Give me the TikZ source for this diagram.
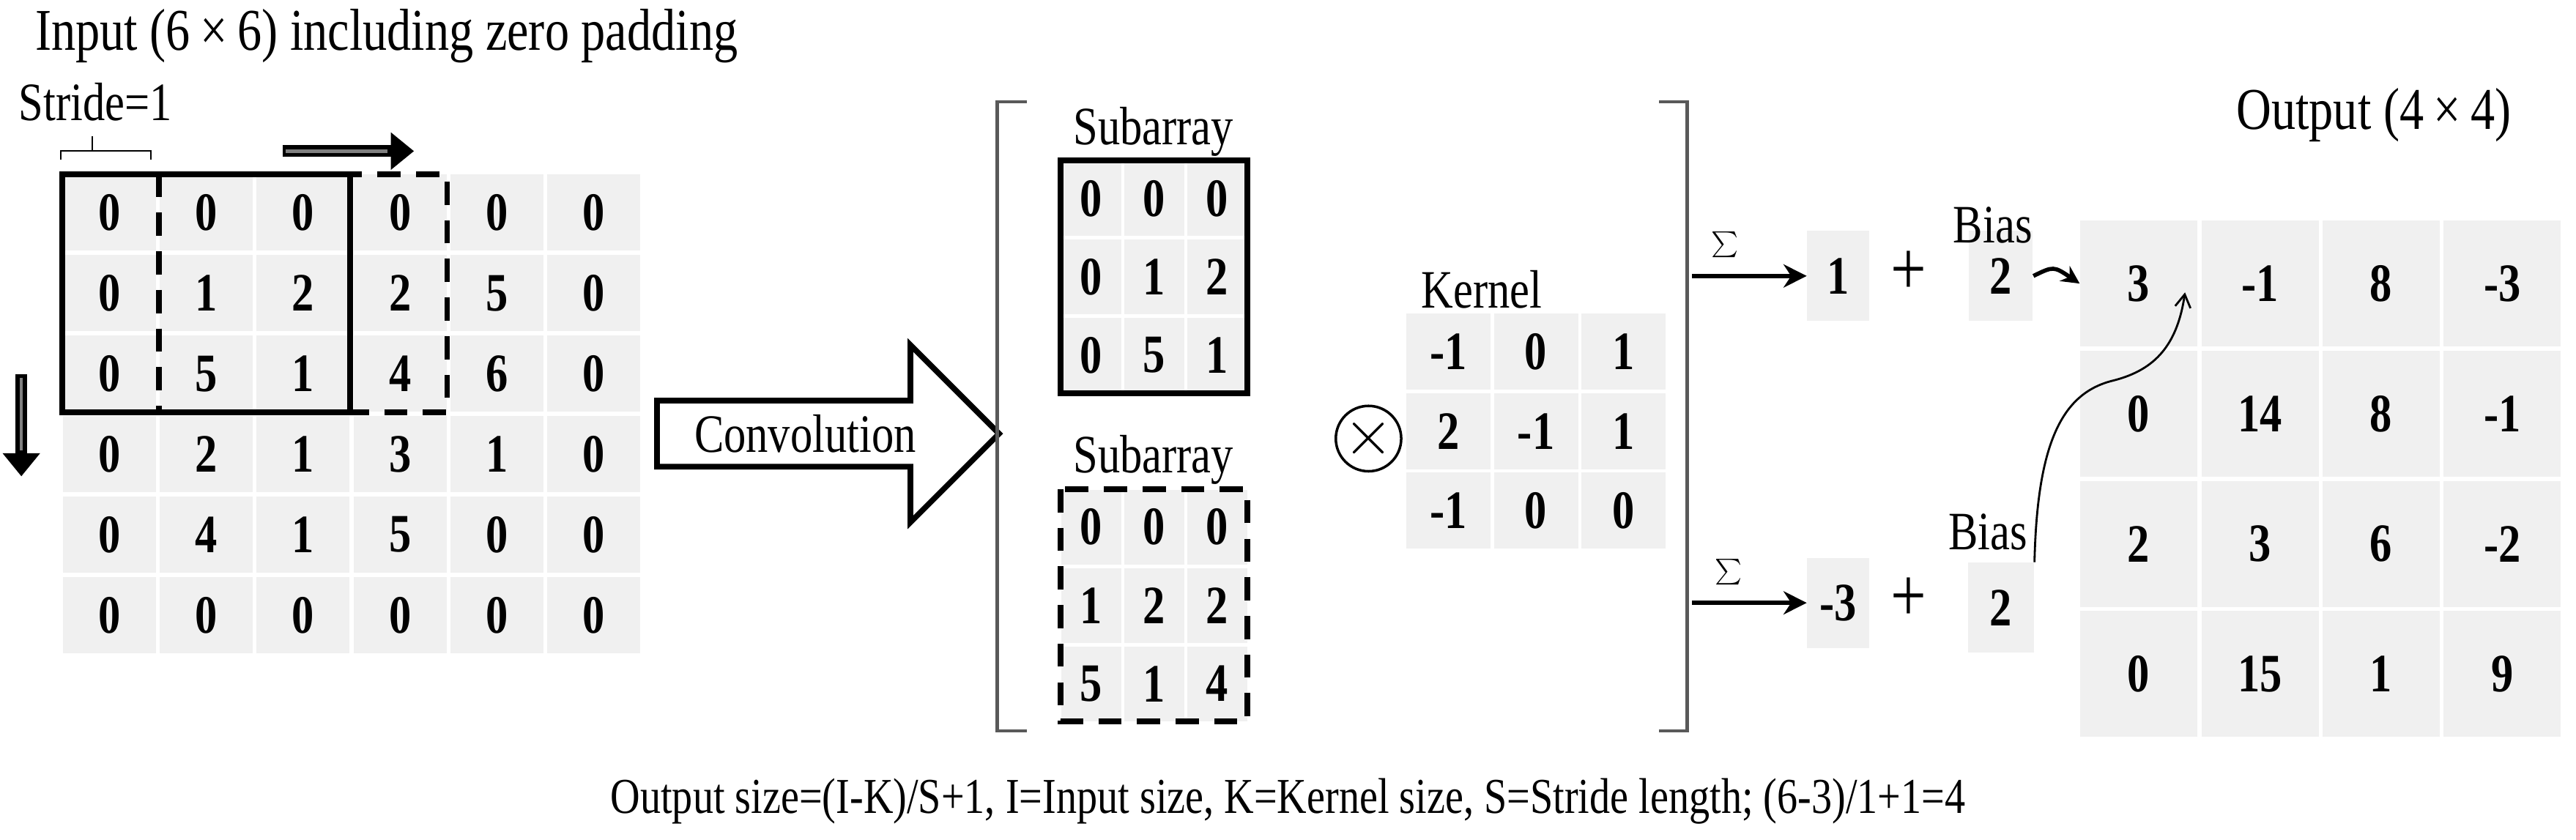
\documentclass[tikz,border=0pt]{standalone}
\usepackage{fontspec}
\setmainfont{Liberation Serif}[FakeStretch=0.82]
\usetikzlibrary{shapes.arrows,arrows.meta}
\definecolor{cellgray}{HTML}{F0F0F0}
\begin{document}
\begin{tikzpicture}[x=0.02243cm,y=-0.02243cm,
  every node/.style={font=\fontsize{21}{24}\selectfont},
  num/.style={font=\fontsize{21}{24}\selectfont\bfseries},
  cell/.style={num,fill=cellgray,inner sep=0pt},
  lab/.style={font=\fontsize{21}{24}\selectfont},
  big/.style={font=\fontsize{30}{32}\selectfont},
  box/.style={line width=2.2pt},
  dbox/.style={line width=2.2pt,dash pattern=on 9pt off 6pt},
  brk/.style={line width=1.2pt,gray!70!black}]
\useasboundingbox (0,0) rectangle (1568,511);
% input grid
\foreach \row [count=\r from 0] in {{0,0,0,0,0,0},{0,1,2,2,5,0},{0,5,1,4,6,0},{0,2,1,3,1,0},{0,4,1,5,0,0},{0,0,0,0,0,0}}{
  \foreach \v [count=\c from 0] in \row {
    \node[cell,minimum width=1.27cm,minimum height=1.04cm] (in\r\c) at ({37+59*(\c+0.5)},{105+49*(\r+0.5)}) {\v};
  }}
\node[lab,anchor=west,font=\fontsize{23}{26}\selectfont] (title) at (16,22) {Input (6\,×\,6) including zero padding};
\node[lab,anchor=west] (stride) at (6,62) {Stride=1};
\draw[line width=0.6pt] (37,97) -- (37,92) -- (92,92) -- (92,97) (56,92) -- (56,83);
\draw[box] (in00.north west) rectangle (in22.south east);
\draw[dbox] (in01.north west) rectangle (in23.south east);
\coordinate (ra) at (172,92); \coordinate (rb) at (252,92);
\draw[line width=4.5pt,-{Triangle[length=9pt,width=14pt]}] (ra) -- (rb);
\draw[line width=1.3pt,gray] (174,92) -- (236,92);
\coordinate (da) at (13,228); \coordinate (db) at (13,290);
\draw[line width=4.5pt,-{Triangle[length=9pt,width=14pt]}] (da) -- (db);
\draw[line width=1.3pt,gray] (13,230) -- (13,274);
% convolution arrow
\node[single arrow,draw,line width=2.2pt,minimum width=2.42cm,minimum height=4.67cm,single arrow head extend=0.62cm,inner sep=2pt,text width=3.2cm,align=left] (conv) at (494,264) {Convolution};
% brackets
\draw[brk] (625,62) -- (607,62) -- (607,445) -- (625,445);
\draw[brk] (1010,62) -- (1027,62) -- (1027,445) -- (1010,445);
% subarrays
\foreach \row [count=\r from 0] in {{0,0,0},{0,1,2},{0,5,1}}{
  \foreach \v [count=\c from 0] in \row {
    \node[cell,minimum width=0.82cm,minimum height=1.02cm] (sa\r\c) at ({645+38.3*(\c+0.5)},{97+47.7*(\r+0.5)}) {\v};
  }}
\foreach \row [count=\r from 0] in {{0,0,0},{1,2,2},{5,1,4}}{
  \foreach \v [count=\c from 0] in \row {
    \node[cell,minimum width=0.82cm,minimum height=1.02cm] (sb\r\c) at ({645+38.3*(\c+0.5)},{297+47.7*(\r+0.5)}) {\v};
  }}
\draw[box] (sa00.north west) rectangle (sa22.south east);
\draw[dbox] (sb00.north west) rectangle (sb22.south east);
\node[lab] (suba) at (702,80) {Subarray};
\node[lab] (subb) at (702,280) {Subarray};
\node[circle,draw,line width=1pt,minimum size=0.72cm,inner sep=0pt,font=\fontsize{24}{26}\selectfont] (ot) at (833,267) {$\times$};
% kernel
\foreach \row [count=\r from 0] in {{-1,0,1},{2,-1,1},{-1,0,0}}{
  \foreach \v [count=\c from 0] in \row {
    \node[cell,minimum width=1.15cm,minimum height=1.04cm] (k\r\c) at ({855+53.3*(\c+0.5)},{190+48.3*(\r+0.5)}) {\v};
  }}
\node[lab] (kern) at (902,176) {Kernel};
% sums
\node[cell,minimum width=0.85cm,minimum height=1.23cm] (s1) at (1119,168) {1};
\node[cell,minimum width=0.85cm,minimum height=1.23cm] (s2) at (1119,367) {-3};
\node[cell,minimum width=0.87cm,minimum height=1.23cm] (b1) at (1218,168) {2};
\node[cell,minimum width=0.9cm,minimum height=1.23cm] (b2) at (1218,370) {2};
\node[big] (p1) at (1162,166) {+};
\node[big] (p2) at (1162,365) {+};
\node[lab] (bl1) at (1213,137) {Bias};
\node[lab] (bl2) at (1210,324) {Bias};
\coordinate (sg1) at (1030,168); \coordinate (sg2) at (1030,367);
\draw[line width=1.8pt,-{Stealth[length=9pt,width=9pt]}] (sg1) -- (s1.west);
\draw[line width=1.8pt,-{Stealth[length=9pt,width=9pt]}] (sg2) -- (s2.west);
\node[lab,font=\fontsize{30}{32}\selectfont] (sig1) at (1050,150) {$\sum$};
\node[lab,font=\fontsize{30}{32}\selectfont] (sig2) at (1052,349) {$\sum$};
% output
\foreach \row [count=\r from 0] in {{3,-1,8,-3},{0,14,8,-1},{2,3,6,-2},{0,15,1,9}}{
  \foreach \v [count=\c from 0] in \row {
    \node[cell,minimum width=1.6cm,minimum height=1.72cm] (o\r\c) at ({1265+73.75*(\c+0.5)},{133+79.25*(\r+0.5)}) {\v};
  }}
\node[lab,font=\fontsize{23}{26}\selectfont] (outl) at (1445,70) {Output (4\,×\,4)};
\draw[line width=1.6pt,-{Stealth[length=7pt,width=7pt]}] (b1.east) .. controls (1250,162) .. (o00.west);
\coordinate (tip) at (1330,178);
\draw[line width=0.8pt,-{Straight Barb[length=5pt,width=6pt]}] (b2.north east) .. controls (1240,270) and (1255,240) .. (1285,232) .. controls (1310,226) and (1325,212) .. (tip);
% formula
\node[lab,font=\fontsize{19.5}{23}\selectfont] (form) at (784,488) {Output size=(I-K)/S+1, I=Input size, K=Kernel size, S=Stride length; (6-3)/1+1=4};
\end{tikzpicture}
\end{document}
